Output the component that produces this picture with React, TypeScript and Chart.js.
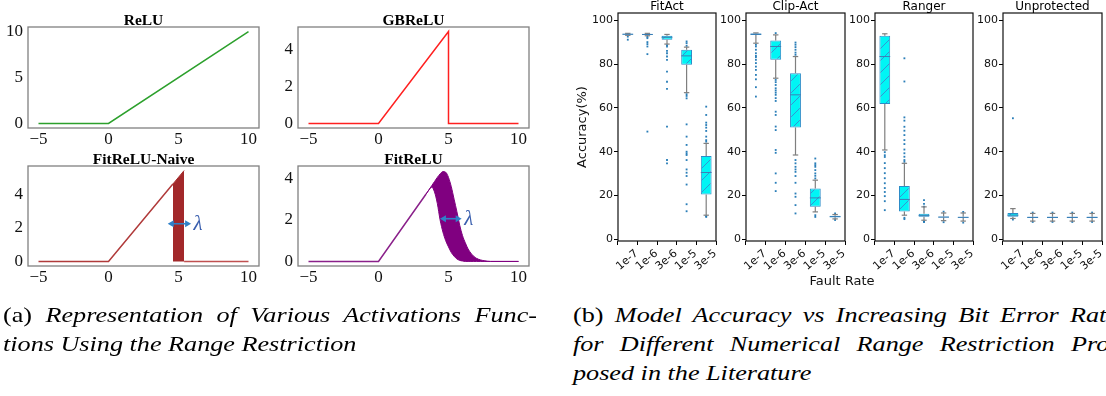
import React, { useEffect, useRef } from 'react';
import { Chart, registerables } from 'chart.js';

Chart.register(...registerables);

// ---------------- Left figure: activation functions ----------------
const ACT_X_TICKS = [-5, 0, 5, 10];
const RELU_Y_TICKS = [0, 5, 10];
const SMALL_Y_TICKS = [0, 2, 4];

const RELU_X = [-5, 0, 10];
const RELU_Y = [0, 0, 10];

const GBRELU_X = [-5, 0, 5, 5, 10];
const GBRELU_Y = [0, 0, 5, 0, 0];

const NAIVE_X = [-5, 0, 4.6];
const NAIVE_Y = [0, 0, 4.6];
const NAIVE_BAND_X = [4.6, 5.4];
const NAIVE_BAND_Y = [4.6, 5.4];
const NAIVE_TAIL_X = [5.4, 10];
const NAIVE_TAIL_Y = [0, 0];

const FR_LINE_X = [-5, 0, 3.4];
const FR_LINE_Y = [0, 0, 3.25];
const FR_BAND_X = [3.4, 3.6, 3.8, 4.0, 4.2, 4.4, 4.6, 4.8, 5.0, 5.2, 5.4, 5.6, 5.8, 6.0, 6.2, 6.4, 6.6, 6.8, 7.0, 7.3, 7.6, 8.0, 10];
const FR_UPPER = [3.25, 3.45, 3.65, 3.85, 4.05, 4.22, 4.33, 4.3, 4.05, 3.6, 3.0, 2.4, 1.75, 1.25, 0.9, 0.6, 0.4, 0.25, 0.15, 0.07, 0.03, 0, 0];
const FR_LOWER = [3.25, 3.44, 3.58, 3.35, 2.8, 2.0, 1.42, 1.0, 0.7, 0.43, 0.25, 0.12, 0.05, 0.02, 0, 0, 0, 0, 0, 0, 0, 0, 0];

const LAMBDA = 'λ';
const NAIVE_LAMBDA = { x1: 4.23, x2: 5.9, y: 2.24, tx: 6.4 };
const FR_LAMBDA = { x1: 4.39, x2: 5.94, y: 2.06, tx: 6.45 };

// ---------------- Right figure: accuracy box plots ----------------
const RATES = ['1e-7', '1e-6', '3e-6', '1e-5', '3e-5'];
const ACC_TICKS = [0, 20, 40, 60, 80, 100];

const FITACT_Q1 = [93.5, 93.4, 91.2, 79.7, 20.5];
const FITACT_MED = [93.7, 93.6, 92.3, 83.8, 30.5];
const FITACT_Q3 = [93.9, 93.8, 93.0, 86.6, 38.0];
const FITACT_LO = [93.2, 93.0, 89.2, 67.0, 11.0];
const FITACT_HI = [94.1, 94.1, 93.6, 87.8, 43.8];
const FITACT_FLIERS = [
  [91.2, 92.6],
  [91.9, 90.1, 89.2, 88.1, 84.6, 49.2, 92.5],
  [88.1, 86.1, 85.0, 83.5, 82.0, 76.6, 72.0, 68.7, 51.5, 36.2, 34.7, 88.7],
  [90.4, 89.6, 88.4, 66.3, 65.5, 64.4, 52.5, 46.9, 43.1, 40.0, 39.2, 38.5, 36.2, 31.9, 30.4, 28.9, 25.0, 16.0, 12.8],
  [60.6, 56.8, 53.3, 52.2, 51.0, 49.5, 46.9, 45.3, 44.6, 10.2, 10.6],
];

const CLIP_Q1 = [93.3, 82.0, 51.1, 14.8, 10.0];
const CLIP_MED = [93.7, 88.1, 66.0, 18.9, 10.3];
const CLIP_Q3 = [94.0, 90.8, 75.9, 23.2, 10.7];
const CLIP_LO = [89.6, 73.6, 38.5, 12.5, 9.3];
const CLIP_HI = [94.3, 93.4, 83.5, 27.0, 11.3];
const CLIP_FLIERS = [
  [88.9, 88.1, 86.6, 85.0, 83.8, 83.2, 82.0, 80.5, 78.9, 77.4, 75.1, 73.1, 69.5, 65.2],
  [94.2, 72.8, 71.8, 70.5, 69.0, 68.0, 67.0, 66.0, 64.5, 63.2, 58.3, 56.8, 51.5, 49.9, 40.8, 39.5, 30.1, 25.8, 22.0],
  [89.9, 88.9, 87.8, 86.6, 85.3, 84.3, 36.2, 34.7, 33.1, 31.9, 30.8, 28.9, 25.8, 20.9, 19.4, 15.6, 11.8],
  [36.9, 34.7, 33.9, 33.1, 31.6, 30.1, 29.0, 27.8, 11.0, 10.2],
  [11.8, 8.8],
];

const RANGER_Q1 = [61.8, 12.7, 10.3, 9.9, 9.8];
const RANGER_MED = [83.5, 18.2, 10.8, 10.1, 10.0];
const RANGER_Q3 = [93.0, 24.3, 11.6, 10.4, 10.3];
const RANGER_LO = [40.8, 11.0, 8.7, 8.5, 8.3];
const RANGER_HI = [93.9, 34.7, 14.8, 12.0, 12.0];
const RANGER_FLIERS = [
  [39.8, 38.4, 37.6, 34.8, 32.5, 30.2, 27.9, 25.6, 23.4, 21.6, 19.7, 17.4, 13.3],
  [82.7, 72.1, 55.7, 54.2, 51.4, 49.6, 47.6, 45.3, 43.5, 41.0, 39.3, 37.7, 36.2, 35.4, 9.8, 9.2],
  [17.9, 16.2, 14.9, 8.2, 7.9],
  [12.6, 7.8],
  [12.5, 7.6],
];

const UNPROT_Q1 = [10.3, 9.7, 9.7, 9.7, 9.7];
const UNPROT_MED = [11.0, 10.0, 10.0, 10.0, 10.0];
const UNPROT_Q3 = [12.0, 10.3, 10.3, 10.3, 10.3];
const UNPROT_LO = [9.5, 8.3, 8.3, 8.3, 8.3];
const UNPROT_HI = [14.0, 11.8, 11.8, 11.8, 11.8];
const UNPROT_FLIERS = [[55.3, 9.0], [12.2, 7.9], [12.2, 7.9], [12.2, 7.9], [12.2, 7.9]];

// ---------------- helpers ----------------
type Box = { left: number; top: number; width: number; height: number };
type Area = { l: number; t: number; r: number; b: number };

const SERIF = '"Liberation Serif", "Times New Roman", serif';
const SANS = '"DejaVu Sans", sans-serif';

const pts = (xs: number[], ys: number[]) => xs.map((x, i) => ({ x, y: ys[i] }));
const fmtMinus = (v: number) => (v < 0 ? '\u2212' + Math.abs(v) : String(v));

function fixedLayout(box: Box, area: Area) {
  return {
    padding: { left: 0, top: area.t - box.top, right: box.left + box.width - area.r, bottom: 0 },
    yWidth: area.l - box.left,
    xHeight: box.top + box.height - area.b,
  };
}

function framePlugin(color: string, width: number) {
  return {
    id: 'frame',
    afterDraw(chart: any) {
      const { left, top, right, bottom } = chart.chartArea;
      const ctx = chart.ctx;
      ctx.save();
      ctx.strokeStyle = color;
      ctx.lineWidth = width;
      ctx.strokeRect(left, top, right - left, bottom - top);
      ctx.restore();
    },
  };
}

function titlePlugin(text: string, font: string, offset: number) {
  return {
    id: 'panelTitle',
    afterDraw(chart: any) {
      const { left, right, top } = chart.chartArea;
      const ctx = chart.ctx;
      ctx.save();
      ctx.font = font;
      ctx.fillStyle = '#000';
      ctx.textAlign = 'center';
      ctx.textBaseline = 'alphabetic';
      ctx.fillText(text, (left + right) / 2, top - offset);
      ctx.restore();
    },
  };
}

function lambdaPlugin(spec: { x1: number; x2: number; y: number; tx: number }) {
  return {
    id: 'lambdaArrow',
    afterDatasetsDraw(chart: any) {
      const xs = chart.scales.x;
      const ys = chart.scales.y;
      const ctx = chart.ctx;
      const x1 = xs.getPixelForValue(spec.x1);
      const x2 = xs.getPixelForValue(spec.x2);
      const y = ys.getPixelForValue(spec.y);
      ctx.save();
      ctx.strokeStyle = '#2f80c8';
      ctx.fillStyle = '#2f80c8';
      ctx.lineWidth = 1.6;
      ctx.beginPath();
      ctx.moveTo(x1 + 4, y);
      ctx.lineTo(x2 - 4, y);
      ctx.stroke();
      const head = (x: number, dir: number) => {
        ctx.beginPath();
        ctx.moveTo(x, y);
        ctx.lineTo(x - dir * 6, y - 3.5);
        ctx.lineTo(x - dir * 6, y + 3.5);
        ctx.closePath();
        ctx.fill();
      };
      head(x1, -1);
      head(x2, 1);
      ctx.fillStyle = '#3a5fae';
      ctx.font = `italic 21px ${SERIF}`;
      ctx.textAlign = 'center';
      ctx.textBaseline = 'middle';
      ctx.fillText(LAMBDA, xs.getPixelForValue(spec.tx), y + 1);
      ctx.restore();
    },
  };
}

function boxPlugin(q1: number[], med: number[], q3: number[], lo: number[], hi: number[]) {
  return {
    id: 'boxExtras',
    afterDatasetsDraw(chart: any) {
      const meta = chart.getDatasetMeta(0);
      const ys = chart.scales.y;
      const ctx = chart.ctx;
      const seg = (a: number, b: number, c: number, d: number) => {
        ctx.beginPath();
        ctx.moveTo(a, b);
        ctx.lineTo(c, d);
        ctx.stroke();
      };
      ctx.save();
      meta.data.forEach((bar: any, i: number) => {
        const x = bar.x;
        const w = bar.width;
        const yq1 = ys.getPixelForValue(q1[i]);
        const yq3 = ys.getPixelForValue(q3[i]);
        const ylo = ys.getPixelForValue(lo[i]);
        const yhi = ys.getPixelForValue(hi[i]);
        const ymed = ys.getPixelForValue(med[i]);
        ctx.strokeStyle = '#7f7f7f';
        ctx.lineWidth = 1.2;
        seg(x, yq3, x, yhi);
        seg(x, yq1, x, ylo);
        seg(x - w / 4, yhi, x + w / 4, yhi);
        seg(x - w / 4, ylo, x + w / 4, ylo);
        ctx.strokeStyle = '#3c7fb6';
        ctx.lineWidth = 1;
        seg(x - w / 2, ymed, x + w / 2, ymed);
      });
      ctx.restore();
    },
  };
}

function makeHatch() {
  const c = document.createElement('canvas');
  const s = 12;
  c.width = s;
  c.height = s;
  const g = c.getContext('2d')!;
  g.fillStyle = '#00f5f5';
  g.fillRect(0, 0, s, s);
  g.strokeStyle = '#3a8ad0';
  g.lineWidth = 0.9;
  g.beginPath();
  g.moveTo(-1, s + 1);
  g.lineTo(s + 1, -1);
  g.moveTo(-1, 1);
  g.lineTo(1, -1);
  g.moveTo(s - 1, s + 1);
  g.lineTo(s + 1, s - 1);
  g.stroke();
  return g.createPattern(c, 'repeat');
}

// ---------------- chart configs ----------------
function actConfig(opts: {
  box: Box;
  area: Area;
  title: string;
  yMin: number;
  yMax: number;
  yTicks: number[];
  datasets: any[];
  lambda?: { x1: number; x2: number; y: number; tx: number };
}) {
  const L = fixedLayout(opts.box, opts.area);
  const plugins: any[] = [framePlugin('#808080', 1.3), titlePlugin(opts.title, `bold 15.5px ${SERIF}`, 2)];
  if (opts.lambda) plugins.push(lambdaPlugin(opts.lambda));
  return {
    type: 'scatter',
    data: { datasets: opts.datasets },
    options: {
      animation: false,
      responsive: false,
      events: [],
      layout: { padding: L.padding },
      plugins: { legend: { display: false }, tooltip: { enabled: false }, title: { display: false } },
      elements: { point: { radius: 0 } },
      scales: {
        x: {
          type: 'linear',
          min: -5.75,
          max: 10.75,
          afterBuildTicks: (s: any) => {
            s.ticks = ACT_X_TICKS.map((v) => ({ value: v }));
          },
          afterFit: (s: any) => {
            s.height = L.xHeight;
          },
          grid: { display: false, drawTicks: false },
          border: { display: false },
          ticks: { font: { family: SERIF, size: 17 }, color: '#111', padding: 1, maxRotation: 0, callback: (v: number) => fmtMinus(v) },
        },
        y: {
          type: 'linear',
          min: opts.yMin,
          max: opts.yMax,
          afterBuildTicks: (s: any) => {
            s.ticks = opts.yTicks.map((v) => ({ value: v }));
          },
          afterFit: (s: any) => {
            s.width = L.yWidth;
          },
          grid: { display: false, drawTicks: false },
          border: { display: false },
          ticks: { font: { family: SERIF, size: 17 }, color: '#111', padding: 5, callback: (v: number) => fmtMinus(v) },
        },
      },
    },
    plugins,
  };
}

const lineDs = (xs: number[], ys: number[], color: string, extra: any = {}) => ({
  data: pts(xs, ys),
  showLine: true,
  borderColor: color,
  backgroundColor: color,
  borderWidth: 1.5,
  pointRadius: 0,
  fill: false,
  ...extra,
});

function boxConfig(opts: {
  box: Box;
  area: Area;
  title: string;
  q1: number[];
  med: number[];
  q3: number[];
  lo: number[];
  hi: number[];
  fliers: number[][];
  yTitle?: string;
}) {
  const L = fixedLayout(opts.box, opts.area);
  const flierPts = opts.fliers.flatMap((arr, i) => arr.map((v) => ({ x: RATES[i], y: v })));
  return {
    type: 'bar',
    data: {
      labels: RATES,
      datasets: [
        {
          type: 'bar',
          data: opts.q1.map((v, i) => [v, opts.q3[i]]),
          backgroundColor: makeHatch(),
          borderColor: '#2b8cc8',
          borderWidth: 1,
          borderSkipped: false,
          barPercentage: 0.55,
          categoryPercentage: 1,
        },
        {
          type: 'line',
          data: flierPts,
          showLine: false,
          pointRadius: 1.3,
          pointStyle: 'rect',
          pointBackgroundColor: 'rgba(31,119,180,0.95)',
          pointBorderWidth: 0,
          borderColor: 'rgba(0,0,0,0)',
        },
      ],
    },
    options: {
      animation: false,
      responsive: false,
      events: [],
      layout: { padding: L.padding },
      plugins: { legend: { display: false }, tooltip: { enabled: false }, title: { display: false } },
      scales: {
        x: {
          type: 'category',
          offset: true,
          afterFit: (s: any) => {
            s.height = L.xHeight;
          },
          grid: { drawOnChartArea: false, drawTicks: true, tickLength: 4, color: '#000' },
          border: { display: false },
          ticks: {
            font: { family: SANS, size: 11 },
            color: '#111',
            minRotation: 40,
            maxRotation: 40,
            autoSkip: false,
            padding: 2,
            labelOffset: 9,
          },
        },
        y: {
          type: 'linear',
          min: -0.8,
          max: 103.4,
          afterBuildTicks: (s: any) => {
            s.ticks = ACC_TICKS.map((v) => ({ value: v }));
          },
          afterFit: (s: any) => {
            s.width = L.yWidth;
          },
          grid: { drawOnChartArea: false, drawTicks: true, tickLength: 4, color: '#000' },
          border: { display: false },
          ticks: { font: { family: SANS, size: 11 }, color: '#111', padding: 1 },
          title: opts.yTitle
            ? { display: true, text: opts.yTitle, font: { family: SANS, size: 13 }, color: '#111', padding: { top: 5, bottom: 0 } }
            : { display: false },
        },
      },
    },
    plugins: [
      framePlugin('#111', 1.2),
      titlePlugin(opts.title, `12px ${SANS}`, 3),
      boxPlugin(opts.q1, opts.med, opts.q3, opts.lo, opts.hi),
    ],
  };
}

// ---------------- components ----------------
function ChartCanvas({ box, make }: { box: Box; make: () => any }) {
  const ref = useRef<HTMLCanvasElement>(null);
  useEffect(() => {
    const chart = new Chart(ref.current as HTMLCanvasElement, make());
    return () => chart.destroy();
  }, []);
  return (
    <canvas
      ref={ref}
      width={box.width}
      height={box.height}
      style={{ position: 'absolute', left: box.left, top: box.top, width: box.width, height: box.height }}
    />
  );
}

const RELU_BOX = { left: 0, top: 0, width: 270, height: 150 };
const GB_BOX = { left: 270, top: 0, width: 275, height: 150 };
const NAIVE_BOX = { left: 0, top: 140, width: 270, height: 150 };
const FR_BOX = { left: 270, top: 140, width: 275, height: 150 };
const FITACT_BOX = { left: 570, top: 0, width: 150, height: 290 };
const CLIP_BOX = { left: 716, top: 0, width: 133, height: 290 };
const RANGER_BOX = { left: 845, top: 0, width: 133, height: 290 };
const UNPROT_BOX = { left: 973, top: 0, width: 133, height: 290 };

const CAP_STRETCH = 1.19;

export default function App() {
  const capStyle: React.CSSProperties = {
    position: 'absolute',
    fontFamily: SERIF,
    fontStyle: 'italic',
    fontSize: 22,
    lineHeight: '29px',
    color: '#000',
    whiteSpace: 'nowrap',
    transform: `scaleX(${CAP_STRETCH})`,
    transformOrigin: 'left top',
  };
  const just: React.CSSProperties = { textAlign: 'justify', textAlignLast: 'justify', whiteSpace: 'normal' };
  const up: React.CSSProperties = { fontStyle: 'normal' };
  return (
    <div style={{ position: 'fixed', left: 0, top: 0, width: 1106, height: 396, overflow: 'hidden', background: '#fff' }}>
      <ChartCanvas
        box={RELU_BOX}
        make={() =>
          actConfig({
            box: RELU_BOX,
            area: { l: 28, t: 27, r: 259, b: 128 },
            title: 'ReLU',
            yMin: -0.5,
            yMax: 10.5,
            yTicks: RELU_Y_TICKS,
            datasets: [lineDs(RELU_X, RELU_Y, '#2ca02c')],
          })
        }
      />
      <ChartCanvas
        box={GB_BOX}
        make={() =>
          actConfig({
            box: GB_BOX,
            area: { l: 298, t: 27, r: 529, b: 128 },
            title: 'GBReLU',
            yMin: -0.25,
            yMax: 5.25,
            yTicks: SMALL_Y_TICKS,
            datasets: [lineDs(GBRELU_X, GBRELU_Y, '#ff2020')],
          })
        }
      />
      <ChartCanvas
        box={NAIVE_BOX}
        make={() =>
          actConfig({
            box: NAIVE_BOX,
            area: { l: 28, t: 166, r: 259, b: 266 },
            title: 'FitReLU-Naive',
            yMin: -0.27,
            yMax: 5.67,
            yTicks: SMALL_Y_TICKS,
            lambda: NAIVE_LAMBDA,
            datasets: [
              lineDs(NAIVE_X, NAIVE_Y, '#b03a3a'),
              lineDs(NAIVE_BAND_X, NAIVE_BAND_Y, '#a52a2a', { fill: 'origin', backgroundColor: '#a2282a', borderWidth: 1 }),
              lineDs(NAIVE_TAIL_X, NAIVE_TAIL_Y, '#c05050'),
            ],
          })
        }
      />
      <ChartCanvas
        box={FR_BOX}
        make={() =>
          actConfig({
            box: FR_BOX,
            area: { l: 298, t: 166, r: 529, b: 266 },
            title: 'FitReLU',
            yMin: -0.22,
            yMax: 4.6,
            yTicks: SMALL_Y_TICKS,
            lambda: FR_LAMBDA,
            datasets: [
              lineDs(FR_BAND_X, FR_UPPER, '#800080', { fill: '+1', backgroundColor: '#800080', borderWidth: 1, cubicInterpolationMode: 'monotone' }),
              lineDs(FR_BAND_X, FR_LOWER, '#800080', { borderWidth: 1, cubicInterpolationMode: 'monotone' }),
              lineDs(FR_LINE_X, FR_LINE_Y, '#8a208a'),
            ],
          })
        }
      />
      <ChartCanvas
        box={FITACT_BOX}
        make={() =>
          boxConfig({
            box: FITACT_BOX,
            area: { l: 618, t: 13, r: 717, b: 241 },
            title: 'FitAct',
            q1: FITACT_Q1,
            med: FITACT_MED,
            q3: FITACT_Q3,
            lo: FITACT_LO,
            hi: FITACT_HI,
            fliers: FITACT_FLIERS,
            yTitle: 'Accuracy(%)',
          })
        }
      />
      <ChartCanvas
        box={CLIP_BOX}
        make={() =>
          boxConfig({
            box: CLIP_BOX,
            area: { l: 746, t: 13, r: 845, b: 241 },
            title: 'Clip-Act',
            q1: CLIP_Q1,
            med: CLIP_MED,
            q3: CLIP_Q3,
            lo: CLIP_LO,
            hi: CLIP_HI,
            fliers: CLIP_FLIERS,
          })
        }
      />
      <ChartCanvas
        box={RANGER_BOX}
        make={() =>
          boxConfig({
            box: RANGER_BOX,
            area: { l: 875, t: 13, r: 973, b: 241 },
            title: 'Ranger',
            q1: RANGER_Q1,
            med: RANGER_MED,
            q3: RANGER_Q3,
            lo: RANGER_LO,
            hi: RANGER_HI,
            fliers: RANGER_FLIERS,
          })
        }
      />
      <ChartCanvas
        box={UNPROT_BOX}
        make={() =>
          boxConfig({
            box: UNPROT_BOX,
            area: { l: 1003, t: 13, r: 1102, b: 241 },
            title: 'Unprotected',
            q1: UNPROT_Q1,
            med: UNPROT_MED,
            q3: UNPROT_Q3,
            lo: UNPROT_LO,
            hi: UNPROT_HI,
            fliers: UNPROT_FLIERS,
          })
        }
      />
      <div
        style={{
          position: 'absolute',
          left: 790,
          top: 273,
          width: 104,
          textAlign: 'center',
          fontFamily: SANS,
          fontSize: 13,
          lineHeight: '16px',
          color: '#111',
        }}
      >
        Fault Rate
      </div>
      <div style={{ ...capStyle, left: 3, top: 300, width: 534 / CAP_STRETCH }}>
        <div style={just}>
          <span style={up}>(a)</span> Representation of Various Activations Func-
        </div>
        <div>tions Using the Range Restriction</div>
      </div>
      <div style={{ ...capStyle, left: 573, top: 300, width: 545 / CAP_STRETCH }}>
        <div style={just}>
          <span style={up}>(b)</span> Model Accuracy vs Increasing Bit Error Rate
        </div>
        <div style={just}>for Different Numerical Range Restriction Pro-</div>
        <div>posed in the Literature</div>
      </div>
    </div>
  );
}
